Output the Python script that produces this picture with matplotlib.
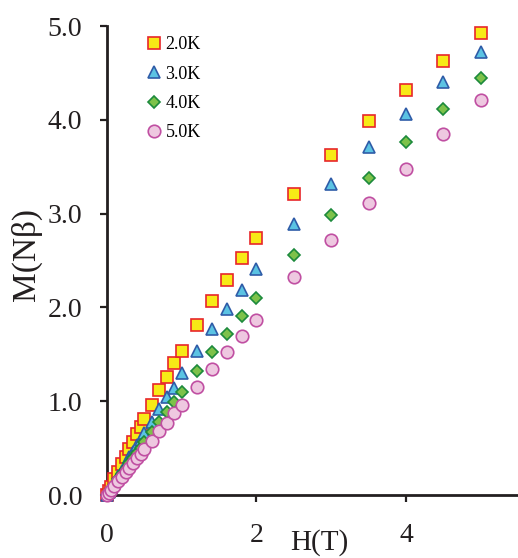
import numpy as np
import matplotlib
matplotlib.use("Agg")
import matplotlib.pyplot as plt

plt.rcParams['font.family'] = ['Liberation Serif', 'DejaVu Serif']

# field values (T)
H = [0, 0.02, 0.05, 0.1, 0.15, 0.2, 0.25, 0.3, 0.35, 0.4, 0.45, 0.5, 0.6, 0.7,
     0.8, 0.9, 1.0, 1.2, 1.4, 1.6, 1.8, 2.0, 2.5, 3.0, 3.5, 4.0, 4.5, 5.0]

# magnetization (N beta) at each temperature
M_2K = [0, 0.04, 0.09, 0.17, 0.25, 0.33, 0.41, 0.49, 0.57, 0.65, 0.73, 0.81, 0.96, 1.12,
        1.26, 1.41, 1.54, 1.81, 2.07, 2.29, 2.53, 2.74, 3.21, 3.62, 3.99, 4.32, 4.63, 4.93]
M_3K = [0, 0.03, 0.07, 0.13, 0.20, 0.26, 0.33, 0.40, 0.46, 0.53, 0.59, 0.66, 0.78, 0.92,
        1.04, 1.14, 1.30, 1.54, 1.77, 1.98, 2.19, 2.41, 2.89, 3.32, 3.71, 4.06, 4.40, 4.72]
M_4K = [0, 0.02, 0.06, 0.11, 0.17, 0.22, 0.28, 0.34, 0.39, 0.45, 0.50, 0.56, 0.67, 0.78,
        0.89, 0.99, 1.10, 1.32, 1.52, 1.72, 1.91, 2.10, 2.56, 2.99, 3.38, 3.76, 4.12, 4.45]
M_5K = [0, 0.02, 0.05, 0.10, 0.15, 0.19, 0.24, 0.29, 0.34, 0.39, 0.44, 0.49, 0.58, 0.68,
        0.77, 0.87, 0.96, 1.15, 1.34, 1.52, 1.70, 1.87, 2.32, 2.72, 3.11, 3.48, 3.85, 4.21]

labels = ['2.0K', '3.0K', '4.0K', '5.0K']

fig = plt.figure(figsize=(5.18, 5.58), dpi=100)
ax = fig.add_axes([0.2066, 0.1129, 0.7934, 0.8405])

ax.plot(H, M_2K, ls='none', marker='s', ms=8, mfc='#F7EA16', mec='#E8262A', mew=1.2,
        label=labels[0], clip_on=False, zorder=3)
ax.plot(H, M_3K, ls='none', marker='^', ms=8.5, mfc='#5BC3E3', mec='#2F5CA8', mew=1.2,
        label=labels[1], clip_on=False, zorder=4)
ax.plot(H, M_4K, ls='none', marker='D', ms=6.5, mfc='#7DC24A', mec='#1C8A3C', mew=1.2,
        label=labels[2], clip_on=False, zorder=5)
ax.plot(H, M_5K, ls='none', marker='o', ms=9, mfc='#EEC8E0', mec='#C04FA2', mew=1.2,
        label=labels[3], clip_on=False, zorder=6)

ax.set_xlim(0, 5.5)
ax.set_ylim(0, 5.0)
ax.set_xticks([0, 2, 4])
ax.set_xticklabels(['0', '2', '4'])
ax.set_yticks([0, 1, 2, 3, 4, 5])
ax.set_yticklabels(['0.0', '1.0', '2.0', '3.0', '4.0', '5.0'])

for s in ['top', 'right']:
    ax.spines[s].set_visible(False)
for s in ['left', 'bottom']:
    ax.spines[s].set_linewidth(2)
    ax.spines[s].set_color('#231F20')
ax.tick_params(direction='out', length=5, width=1.6, labelsize=20, color='#231F20',
               labelcolor='#231F20')
ax.tick_params(axis='y', pad=13)
ax.tick_params(axis='x', pad=15)

ax.set_xlabel('H(T)', fontsize=21, color='#231F20')
ax.xaxis.set_label_coords(0.516, -0.073)
ax.set_ylabel('M(Nβ)', fontsize=24, color='#231F20')
ax.yaxis.set_label_coords(-0.158, 0.512)

ax.legend(loc='upper left', bbox_to_anchor=(0.05, 1.005), frameon=False, fontsize=13,
          handletextpad=-0.1, labelspacing=0.68, handlelength=1.5, borderpad=0.2)

fig.savefig('out.png', dpi=100)
